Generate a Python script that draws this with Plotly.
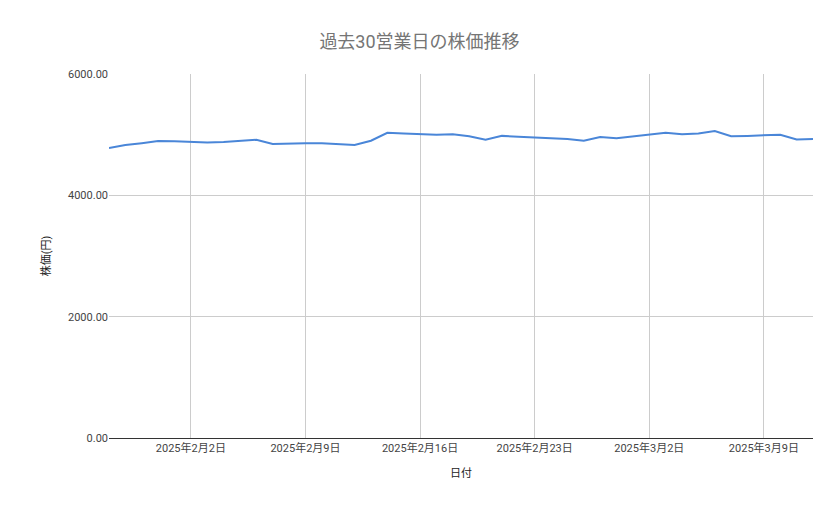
import pandas as pd
import plotly.graph_objects as go

start_date = "2025-01-28"
prices = [4780, 4830, 4860, 4895, 4890, 4880, 4870, 4880, 4900, 4915,
          4845, 4855, 4860, 4860, 4850, 4830, 4900, 5030, 5020, 5010,
          5000, 5005, 4975, 4915, 4980, 4965, 4955, 4945, 4930, 4900,
          4960, 4940, 4970, 5000, 5030, 5005, 5020, 5060, 4975, 4980,
          4990, 5000, 4920, 4930]
tick_dates = ["2025-02-02", "2025-02-09", "2025-02-16", "2025-02-23", "2025-03-02", "2025-03-09"]
tick_labels = ["2025年2月2日", "2025年2月9日", "2025年2月16日", "2025年2月23日", "2025年3月2日", "2025年3月9日"]
y_ticks = [0, 2000, 4000, 6000]

dates = pd.date_range(start_date, periods=len(prices), freq="D")

fig = go.Figure(go.Scatter(
    x=dates, y=prices, mode="lines",
    line=dict(color="#4a86d8", width=2),
))

# page has an 8px body margin, so offsets are shifted by 8
fig.update_layout(
    width=823, height=503,
    template="plotly_white",
    font=dict(family="Roboto, 'Noto Sans CJK JP'", size=11, color="#444"),
    title=dict(text="過去30営業日の株価推移", x=0.5, y=0.945,
               font=dict(size=18, color="#757575")),
    margin=dict(l=101, r=18, t=66, b=73),
    showlegend=False,
)
fig.update_xaxes(
    range=[dates[0], dates[-1]],
    tickvals=pd.to_datetime(tick_dates), ticktext=tick_labels,
    showgrid=True, gridcolor="#cccccc",
    showline=True, linecolor="#333", zeroline=False,
    title=dict(text="日付", font=dict(size=11, color="#222")),
)
fig.update_yaxes(
    range=[0, 6000], tickvals=y_ticks, tickformat=".2f",
    showgrid=True, gridcolor="#cccccc", zeroline=False,
    title=dict(text="株価(円)", font=dict(size=11, color="#222")),
)

fig.write_html("out.html")
